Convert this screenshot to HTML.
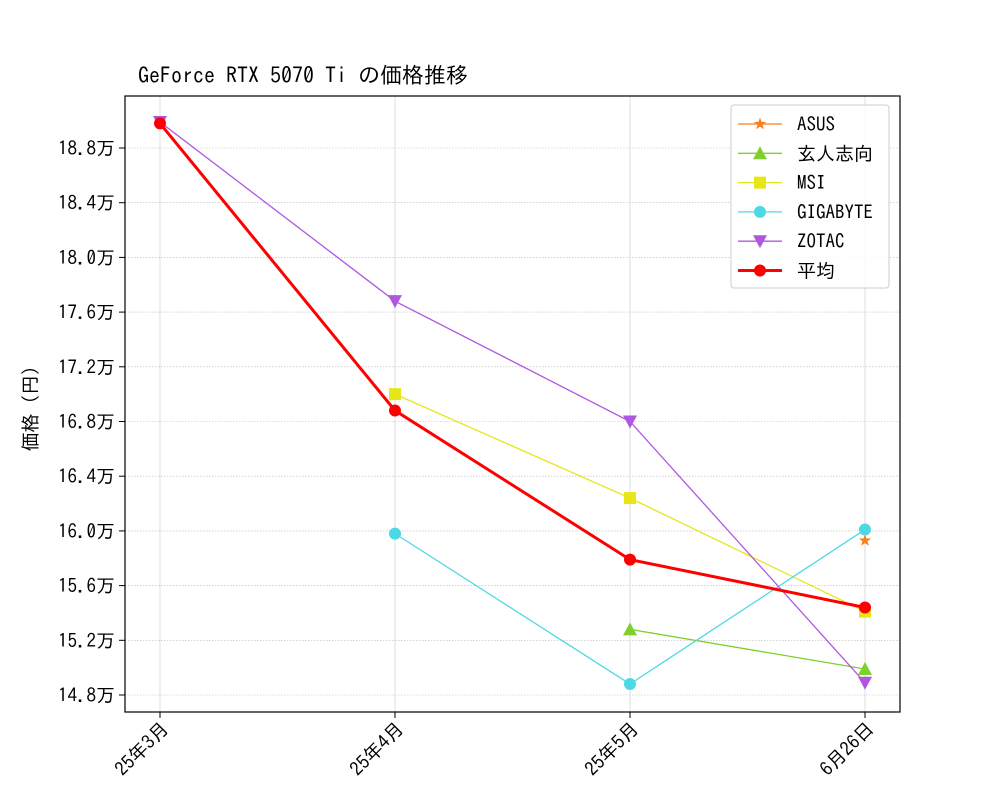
<!DOCTYPE html>
<html><head><meta charset="utf-8"><style>
body{margin:0;background:#fff}
svg text{font-family:"IPAGothic","Liberation Mono","Noto Sans CJK JP",monospace;fill:#000}
</style></head><body>
<svg id="chart" width="1000" height="800" viewBox="0 0 1000 800">
<rect width="1000" height="800" fill="#fff"/>
<g id="grid"></g>
<g id="series"></g>
<rect x="125" y="96" width="775" height="616" fill="none" stroke="#000" stroke-width="1.2"/>
<g id="axes"></g>
<text x="138" y="83" font-size="22">GeForce RTX 5070 Ti の価格推移</text>
<text transform="translate(37,404) rotate(-90)" text-anchor="middle" font-size="19">価格（円）</text>
<g id="legend"></g>
</svg>
<script>
const categories=["25年3月","25年4月","25年5月","6月26日"];
const yTicks=[14.8,15.2,15.6,16.0,16.4,16.8,17.2,17.6,18.0,18.4,18.8];
const seriesNames=["ASUS","玄人志向","MSI","GIGABYTE","ZOTAC","平均"];
const asus=[null,null,null,15.93];
const kuroshikou=[null,null,15.28,14.99];
const msi=[null,17.0,16.24,15.41];
const gigabyte=[null,15.98,14.88,16.01];
const zotac=[18.99,17.68,16.80,14.89];
const average=[18.98,16.88,15.79,15.44];
const NS="http://www.w3.org/2000/svg";
function x(i){return 160+i*235;}
function y(v){return 148+(18.8-v)*136.75;}
function mk(tag,attrs,parent){const e=document.createElementNS(NS,tag);for(const k in attrs)e.setAttribute(k,attrs[k]);parent.appendChild(e);return e;}
const grid=document.getElementById('grid'),axes=document.getElementById('axes'),ser=document.getElementById('series'),leg=document.getElementById('legend');
categories.forEach((c,i)=>{
 const l=mk('line',{x1:x(i),x2:x(i),y1:96,y2:712,stroke:'#ddd','stroke-width':1},grid);
 
 
 mk('line',{x1:x(i),x2:x(i),y1:712,y2:718,stroke:'#000'},axes);
 const t=mk('text',{transform:`translate(${x(i)+10},730) rotate(-45)`,'text-anchor':'end','font-size':19},axes);
 t.textContent=c;
 
 
});
yTicks.forEach(v=>{
 const l=mk('line',{x1:125,x2:900,y1:y(v),y2:y(v),stroke:'#bbb','stroke-width':0.6,'stroke-dasharray':'1.5,1.5'},grid);
 
 
 mk('line',{x1:119,x2:125,y1:y(v),y2:y(v),stroke:'#000'},axes);
 const t=mk('text',{x:115,y:y(v)+7,'text-anchor':'end','font-size':19},axes);
 t.textContent=v.toFixed(1)+'万';
 
 
});
function marker(shape,cx,cy,color,p,s){
 s=s||1;let e;
 if(shape==='star'){let pts=[];for(let k=0;k<10;k++){const r=(k%2?2.6:6.5)*s,a=-Math.PI/2+k*Math.PI/5;pts.push((cx+r*Math.cos(a)).toFixed(1)+','+(cy+r*Math.sin(a)).toFixed(1));}e=mk('polygon',{points:pts.join(' '),fill:color},p);}
 else if(shape==='tri')e=mk('polygon',{points:`${cx},${cy-7*s} ${cx+7*s},${cy+6*s} ${cx-7*s},${cy+6*s}`,fill:color},p);
 else if(shape==='tridown')e=mk('polygon',{points:`${cx},${cy+7*s} ${cx+7*s},${cy-6*s} ${cx-7*s},${cy-6*s}`,fill:color},p);
 else if(shape==='sq')e=mk('rect',{x:cx-6*s,y:cy-6*s,width:12*s,height:12*s,fill:color},p);
 else e=mk('circle',{cx:cx,cy:cy,r:6*s,fill:color},p);
 return e;
}
const all=[asus,kuroshikou,msi,gigabyte,zotac,average];
const colors=["#f5821f","#7ed02a","#e6e619","#4dd8e6","#b057e0","#ff0000"];
const shapes=["star","tri","sq","circle","tridown","circle"];
const widths=[1.3,1.3,1.3,1.3,1.3,3];
all.forEach((arr,si)=>{
 const g=mk('g',{},ser);
 
 
 const pts=[];arr.forEach((v,i)=>{if(v!=null)pts.push(x(i)+','+y(v));});
 if(pts.length>1)mk('polyline',{points:pts.join(' '),fill:'none',stroke:colors[si],'stroke-width':widths[si]},g);
 arr.forEach((v,i)=>{if(v!=null){const m=marker(shapes[si],x(i),y(v),colors[si],g);
  
  }});
});
const lb=mk('rect',{x:731,y:105,width:158,height:183,rx:3,fill:'#fff','fill-opacity':0.85,stroke:'#ccc'},leg);


seriesNames.forEach((n,i)=>{
 const ly=124+i*29.3;
 const g=mk('g',{},leg);
 
 
 mk('line',{x1:738,x2:782,y1:ly,y2:ly,stroke:colors[i],'stroke-width':widths[i]},g);
 marker(shapes[i],760,ly,colors[i],g);
 const t=mk('text',{x:797,y:ly+7,'font-size':19},g);t.textContent=n;
});
</script>
</body></html>
